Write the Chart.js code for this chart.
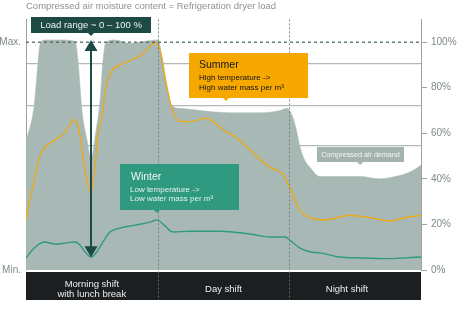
<!DOCTYPE html>
<html>
<head>
<meta charset="utf-8">
<script src="https://cdn.jsdelivr.net/npm/chart.js@4.4.1/dist/chart.umd.min.js"></script>
<style>
  html, body { margin: 0; padding: 0; background: #ffffff; }
  #wrap { width: 460px; height: 327px; }
</style>
</head>
<body>
<div id="wrap"><canvas id="c" width="460" height="327"></canvas></div>
<script>
// ---------- data (x = hour of the 24 h day, y = % load) ----------
const titleText = 'Compressed air moisture content = Refrigeration dryer load';
const shiftCenters = [4, 12, 19.5];
const shiftLabels = [['Morning shift', 'with lunch break'], 'Day shift', 'Night shift'];
const shiftDividers = [8, 16];
const rightTicks = [0, 20, 40, 60, 80, 100];
const gridValues = [16.7, 35.5, 54.4, 72, 90.8];

const demandHours  = [0, 0.49, 0.73, 0.85, 1.15, 2.07, 2.98, 3.16, 3.40, 3.71, 3.95, 4.25, 4.50, 4.68, 4.86, 5.41, 6.32, 7.23, 8.02, 8.26, 8.57, 8.87, 9.36, 10.57, 12.40, 14.22, 15.43, 15.86, 16.16, 16.41, 16.65, 16.95, 17.26, 17.86, 19.08, 20.29, 21.51, 22.42, 23.33, 24];
const demandValues = [56, 72, 91, 99, 101, 101, 100.4, 92, 70, 57, 49, 61, 74.5, 92, 100, 101, 99.5, 100.4, 101, 94, 81, 72, 71, 70, 69, 69, 70, 71, 68, 62, 54, 48, 45, 41, 41, 41, 40, 41, 43, 46];

const summerHours  = [0, 0.12, 0.43, 0.73, 1.03, 1.46, 2.07, 2.43, 2.67, 2.92, 3.10, 3.28, 3.58, 3.92, 4.19, 4.37, 4.62, 4.80, 5.10, 5.71, 6.93, 7.53, 7.84, 8.14, 8.45, 8.75, 9.17, 9.66, 10.27, 10.88, 11.48, 12.09, 12.70, 13.61, 14.83, 15.62, 16.04, 16.65, 17.26, 18.17, 19.69, 20.90, 22.12, 23.03, 24];
const summerValues = [22, 27, 37, 47, 52.6, 55.7, 58.5, 61, 64, 66, 64.5, 59, 44, 34, 45, 60, 68, 78, 86, 90, 94, 98, 100, 96.5, 84, 74, 66, 65, 65.5, 66.7, 64.5, 61, 58.5, 52.6, 45, 42, 36, 26, 23, 22, 24, 23, 21.5, 23, 24];

const winterHours  = [0, 0.55, 1.15, 1.76, 2.37, 2.98, 3.28, 3.58, 3.95, 4.31, 4.68, 5.10, 5.71, 6.62, 7.53, 7.96, 8.45, 8.93, 9.96, 11.79, 13.61, 14.83, 15.74, 16.04, 16.65, 17.26, 17.86, 19.08, 20.29, 22.12, 23.03, 24];
const winterValues = [5.3, 10, 12.3, 11.4, 11.8, 12.3, 11, 8, 5.7, 8, 12.3, 16.7, 18.4, 19.7, 21, 22, 19.3, 16.7, 17, 17, 15.8, 14.5, 14.5, 13, 9.6, 8, 7.5, 5.7, 5.3, 5, 5.3, 5.7];

const toXY = (xs, ys) => xs.map((x, i) => ({ x: x, y: ys[i] }));

// ---------- styles ----------
const FONT = "'Liberation Sans', Arial, Helvetica, sans-serif";
const C = {
  demand: '#a8b8b4',
  summer: '#f5a700',
  winter: '#2f9a80',
  dark: '#1d4a45',
  band: '#1b1f22',
  axisText: '#7f8a88',
  grid: 'rgba(45,60,58,0.36)'
};

// annotations (box edges in data units)
const annotations = {
  loadRange: { x0: 0.3, x1: 7.6, y0: 111.2, y1: 104.2, color: C.dark, pointerX: 3.95,
    lines: [{ text: 'Load range ~ 0 – 100 %', size: 9.5, color: '#eef3f2', center: true }] },
  summer: { x0: 9.9, x1: 17.13, y0: 95.2, y1: 75.4, color: '#f6a800', pointerX: 12.15,
    lines: [
      { text: 'Summer', size: 10.5, color: '#151515', dx: 10, dy: 12 },
      { text: 'High temperature ->', size: 8, color: '#151515', dx: 10, dy: 25 },
      { text: 'High water mass per m³', size: 8, color: '#151515', dx: 10, dy: 34.5 }
    ] },
  winter: { x0: 5.71, x1: 12.94, y0: 46.5, y1: 26.3, color: C.winter, pointerX: 7.96,
    lines: [
      { text: 'Winter', size: 10.5, color: '#eef7f4', dx: 11, dy: 13 },
      { text: 'Low temperature ->', size: 8, color: '#e4f1ed', dx: 10, dy: 26 },
      { text: 'Low water mass per m³', size: 8, color: '#e4f1ed', dx: 10, dy: 35 }
    ] },
  demandLabel: { x0: 17.68, x1: 22.97, y0: 54.2, y1: 47.6, color: '#a3b3af', pointerX: 20.3,
    lines: [{ text: 'Compressed air demand', size: 7.2, color: '#f4f7f6', center: true }] }
};
const arrowSpec = { x: 3.95, top: 101, bottom: 5.6 };

const annotPlugin = {
  id: 'annot',
  beforeDraw(chart) {
    const ctx = chart.ctx, a = chart.chartArea, xs = chart.scales.x;
    ctx.save();
    ctx.fillStyle = C.band;
    ctx.fillRect(a.left, a.bottom + 2, a.right - a.left, xs.bottom - a.bottom - 2);
    ctx.restore();
  },
  afterDatasetsDraw(chart) {
    const ctx = chart.ctx, a = chart.chartArea, xs = chart.scales.x, ys = chart.scales.y;
    ctx.save();
    // shift dividers
    ctx.strokeStyle = 'rgba(110,122,120,0.85)';
    ctx.lineWidth = 1;
    ctx.setLineDash([2, 2]);
    shiftDividers.forEach(v => {
      const px = Math.round(xs.getPixelForValue(v)) + 0.5;
      ctx.beginPath(); ctx.moveTo(px, a.top); ctx.lineTo(px, xs.bottom); ctx.stroke();
    });
    // 100 % line
    ctx.strokeStyle = '#3f5f5a';
    ctx.lineWidth = 1.2;
    ctx.setLineDash([3, 3]);
    const py = ys.getPixelForValue(100);
    ctx.beginPath(); ctx.moveTo(a.left, py); ctx.lineTo(a.right, py); ctx.stroke();
    ctx.restore();
  },
  afterDraw(chart) {
    const ctx = chart.ctx, xs = chart.scales.x, ys = chart.scales.y;
    ctx.save();
    // arrow
    const ax = xs.getPixelForValue(arrowSpec.x);
    const at = ys.getPixelForValue(arrowSpec.top), ab = ys.getPixelForValue(arrowSpec.bottom);
    const hw = 6.5, hl = 11;
    ctx.strokeStyle = C.dark; ctx.fillStyle = C.dark; ctx.lineWidth = 2;
    ctx.beginPath(); ctx.moveTo(ax, at + hl - 1); ctx.lineTo(ax, ab - hl + 1); ctx.stroke();
    ctx.beginPath(); ctx.moveTo(ax, at); ctx.lineTo(ax - hw, at + hl); ctx.lineTo(ax + hw, at + hl); ctx.closePath(); ctx.fill();
    ctx.beginPath(); ctx.moveTo(ax, ab); ctx.lineTo(ax - hw, ab - hl); ctx.lineTo(ax + hw, ab - hl); ctx.closePath(); ctx.fill();
    // boxes
    Object.values(annotations).forEach(b => {
      const x0 = Math.round(xs.getPixelForValue(b.x0)), x1 = Math.round(xs.getPixelForValue(b.x1));
      const y0 = Math.round(ys.getPixelForValue(b.y0)), y1 = Math.round(ys.getPixelForValue(b.y1));
      ctx.fillStyle = b.color;
      ctx.fillRect(x0, y0, x1 - x0, y1 - y0);
      const px = xs.getPixelForValue(b.pointerX);
      ctx.beginPath(); ctx.moveTo(px - 3, y1); ctx.lineTo(px + 3, y1); ctx.lineTo(px, y1 + 3); ctx.closePath(); ctx.fill();
      b.lines.forEach(l => {
        ctx.font = l.size + 'px ' + FONT;
        ctx.fillStyle = l.color;
        ctx.textBaseline = 'middle';
        if (l.center) {
          ctx.textAlign = 'center';
          ctx.fillText(l.text, (x0 + x1) / 2, (y0 + y1) / 2 + 0.5);
        } else {
          ctx.textAlign = 'left';
          ctx.fillText(l.text, x0 + l.dx, y0 + l.dy);
        }
      });
    });
    ctx.restore();
  }
};

new Chart(document.getElementById('c'), {
  type: 'line',
  data: {
    datasets: [
      { label: 'Winter', data: toXY(winterHours, winterValues), borderColor: C.winter, borderWidth: 1.4,
        pointRadius: 0, fill: false, cubicInterpolationMode: 'monotone', yAxisID: 'y', order: 1 },
      { label: 'Summer', data: toXY(summerHours, summerValues), borderColor: C.summer, borderWidth: 1.2,
        pointRadius: 0, fill: false, cubicInterpolationMode: 'monotone', yAxisID: 'y', order: 2 },
      { label: 'Compressed air demand', data: toXY(demandHours, demandValues), borderColor: C.demand,
        backgroundColor: C.demand, borderWidth: 0.5, pointRadius: 0, fill: 'origin',
        cubicInterpolationMode: 'monotone', yAxisID: 'y', order: 3 }
    ]
  },
  options: {
    responsive: false,
    animation: false,
    devicePixelRatio: 1,
    layout: { padding: { top: 0, bottom: 27, left: 0, right: 0 } },
    plugins: {
      legend: { display: false },
      tooltip: { enabled: false },
      title: { display: true, text: titleText, align: 'start', fullSize: false, color: '#8c9391',
        font: { size: 9.5, family: FONT, weight: 'normal' }, padding: { top: 1, bottom: 7 } }
    },
    scales: {
      x: {
        type: 'linear', min: 0, max: 24, position: 'bottom',
        afterBuildTicks: s => { s.ticks = shiftCenters.map(v => ({ value: v })); },
        afterFit: s => { s.height = 30; },
        grid: { display: false }, border: { display: false },
        ticks: { callback: (v, i) => shiftLabels[i], color: '#eceeee', autoSkip: false, maxRotation: 0,
          font: { size: 9.5, family: FONT, lineHeight: 1.1 }, padding: 6, crossAlign: 'center' }
      },
      y: {
        position: 'right', min: 0, max: 110,
        afterBuildTicks: s => { s.ticks = rightTicks.map(v => ({ value: v })); },
        afterFit: s => { s.width = 39; },
        ticks: { callback: v => v + '%', color: C.axisText, font: { size: 10, family: FONT }, padding: 4 },
        grid: { drawOnChartArea: false, drawTicks: true, tickLength: 6, tickColor: '#9aa3a1' },
        border: { color: '#9aa3a1' }
      },
      yL: {
        position: 'left', min: 0, max: 110, z: 1,
        afterBuildTicks: s => { s.ticks = [0].concat(gridValues, [100]).map(v => ({ value: v })); },
        afterFit: s => { s.width = 26; },
        ticks: { callback: v => (v === 100 ? 'Max.' : (v === 0 ? 'Min.' : '')), color: C.axisText,
          font: { size: 10, family: FONT }, padding: 5, autoSkip: false },
        grid: { drawTicks: false, lineWidth: 1.2,
          color: c => (c.tick && (c.tick.value === 0 || c.tick.value === 100)) ? 'rgba(0,0,0,0)' : C.grid },
        border: { color: '#9aa3a1' }
      }
    }
  },
  plugins: [annotPlugin]
});
</script>
</body>
</html>
